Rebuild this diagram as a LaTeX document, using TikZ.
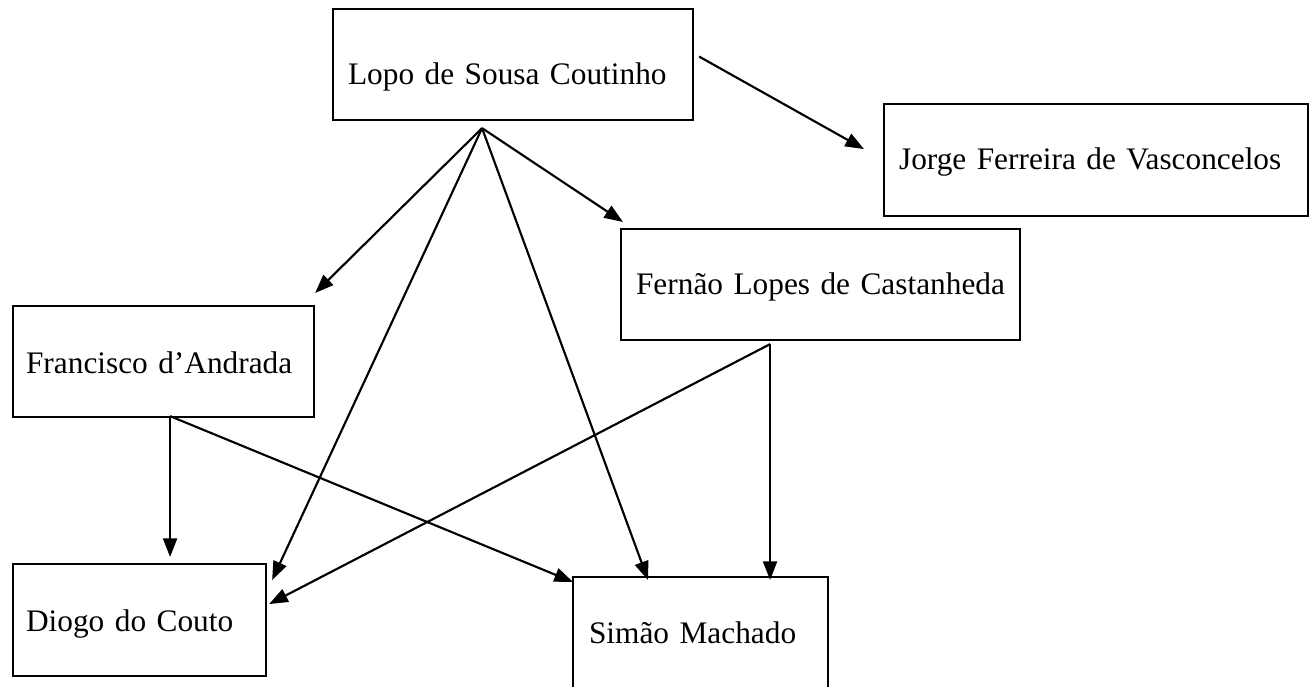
\documentclass[tikz,border=0pt]{standalone}
\usepackage{fontspec}
\setmainfont{Liberation Serif}
\usepackage{tikz}
\usetikzlibrary{arrows.meta,calc}

\begin{document}
\begin{tikzpicture}[x=0.75pt,y=0.75pt,yscale=-1,xscale=1,
    box/.style={draw,line width=1.6pt,anchor=north west,align=left,inner ysep=0pt,
      font=\fontsize{23.5}{28}\selectfont},
    link/.style={line width=1.6pt,-{Triangle[length=14pt,width=10.5pt]}}]
    \useasboundingbox (0,0) rectangle (1316,686);
    %Shape: Rectangle [id:lopo]
    \node [box,inner xsep=11.25pt,text width=247.5pt,text height=56.25pt,text depth=27pt] (lopo) at (332,8) {\mbox{Lopo de Sousa Coutinho}};
    %Shape: Rectangle [id:jorge]
    \node [box,inner xsep=11.25pt,text width=295.5pt,text height=48.75pt,text depth=35.25pt] (jorge) at (883,103) {\mbox{Jorge Ferreira de Vasconcelos}};
    %Shape: Rectangle [id:andrada]
    \node [box,inner xsep=9.75pt,text width=206.25pt,text height=50.25pt,text depth=33pt] (andrada) at (12,305) {\mbox{Francisco d’Andrada}};
    %Shape: Rectangle [id:castanheda]
    \node [box,inner xsep=11.25pt,text width=276.75pt,text height=48.75pt,text depth=34.5pt] (castanheda) at (620,228) {\mbox{Fernão Lopes de Castanheda}};
    %Shape: Rectangle [id:couto]
    \node [box,inner xsep=9.75pt,text width=170.25pt,text height=50.25pt,text depth=33.75pt] (couto) at (12,563) {\mbox{Diogo do Couto}};
    %Shape: Rectangle [id:machado]
    \node [box,inner xsep=12pt,text width=167.25pt,text height=49.5pt,text depth=45pt] (machado) at (572,576) {\mbox{Simão Machado}};
    %Points where the arrows leave the boxes
    \coordinate (lopofoot) at ($(lopo.south)+(-31,7)$);
    \coordinate (andradafoot) at ($(andrada.south)+(6.5,-2)$);
    \coordinate (castanhedafoot) at ($(castanheda.south)+(-50.5,3)$);
    %Arrows from Lopo de Sousa Coutinho
    \draw [link] ($(lopo.east)+(5,-8)$) -- ($(jorge.west)+(-19,-11)$);
    \draw [link] (lopofoot) -- ($(andrada.north east)+(0,-12)$);
    \draw [link] (lopofoot) -- ($(castanheda.north west)+(3,-6)$);
    \draw [link] (lopofoot) -- ($(couto.north east)+(5,17)$);
    \draw [link] (lopofoot) -- ($(machado.north west)+(76,4)$);
    %Arrows from Francisco d'Andrada
    \draw [link] (andradafoot) -- ($(andradafoot |- couto.north)+(0,-6)$);
    \draw [link] (andradafoot) -- ($(machado.north west)+(1,6)$);
    %Arrows from Fernao Lopes de Castanheda
    \draw [link] (castanhedafoot) -- ($(castanhedafoot |- machado.north)+(0,4)$);
    \draw [link] (castanhedafoot) -- ($(couto.east)+(2,-16)$);
\end{tikzpicture}
\end{document}
